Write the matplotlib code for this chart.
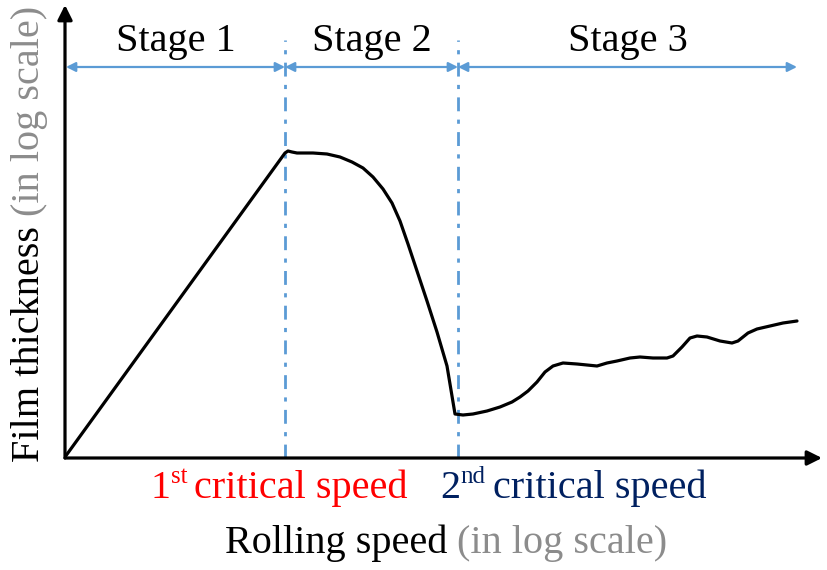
import matplotlib.pyplot as plt

plt.rcParams['font.family'] = ['Liberation Serif', 'DejaVu Serif']

# schematic curve (arbitrary units, origin at the axes corner)
speed = [0, 220, 223, 227, 232, 248, 262, 275, 287, 298, 308, 318, 327, 335,
         343, 352, 362, 372, 382, 390, 398, 408, 422, 435, 447, 455, 463, 472,
         480, 488, 498, 512, 522, 532, 542, 552, 565, 575, 588, 602, 608, 617,
         625, 632, 642, 655, 667, 673, 683, 692, 705, 718, 732]
thickness = [1, 305, 307, 306, 305, 305, 304, 301, 296, 290, 281, 269, 255, 237,
             214, 187, 157, 126, 92, 44, 43, 44, 47, 51, 56, 61, 67, 76,
             86, 92, 95, 94, 93, 92, 95, 97, 100, 101, 100, 100, 102, 111,
             120, 122, 121, 117, 115, 117, 125, 129, 132, 135, 137]

critical_speeds = [220, 393]
stage_bounds = [1, 220, 393, 732]
stage_labels = ['Stage 1', 'Stage 2', 'Stage 3']

blue = '#5B9BD5'
fs = 29

fig = plt.figure(figsize=(8.27, 5.70), dpi=100)
ax = fig.add_axes([65 / 827, 112 / 570, 757 / 827, 453 / 570])
ax.set_xlim(0, 757)
ax.set_ylim(0, 453)
ax.axis('off')

# axes drawn as arrows
ax.annotate('', xy=(1, 0), xytext=(0, 0), xycoords='axes fraction',
            arrowprops=dict(arrowstyle='-|>', color='black', lw=2.3,
                            mutation_scale=22, shrinkA=0, shrinkB=0))
ax.annotate('', xy=(0, 1), xytext=(0, 0), xycoords='axes fraction',
            arrowprops=dict(arrowstyle='-|>', color='black', lw=2.3,
                            mutation_scale=22, shrinkA=0, shrinkB=0))

# critical speed markers
for c in critical_speeds:
    ax.plot([c, c], [0, 418], color=blue, lw=2, ls=(0, (5, 3, 1.5, 3)))

# stage arrows and labels
for i, lab in enumerate(stage_labels):
    a, b = stage_bounds[i], stage_bounds[i + 1]
    ax.annotate('', xy=(b, 391), xytext=(a, 391),
                arrowprops=dict(arrowstyle='<|-|>', color=blue, lw=1.6,
                                mutation_scale=14, shrinkA=0, shrinkB=0))
    ax.text((a + b) / 2, 417, lab, ha='center', va='center', fontsize=fs)

ax.plot(speed, thickness, color='black', lw=2.3, solid_joinstyle='round',
        solid_capstyle='round')


def label_crit(x, num, sup, color):
    t1 = ax.text(x, -49, num, fontsize=fs, color=color, va='bottom',
                 clip_on=False)
    t2 = ax.annotate(sup, xy=(1, 1), xycoords=t1, xytext=(0.5, 3),
                     textcoords='offset points', fontsize=18, color=color,
                     va='top', ha='left', annotation_clip=False)
    ax.annotate('critical speed', xy=(1, 0), xycoords=(t2, t1), xytext=(5, 0),
                textcoords='offset points', fontsize=fs, color=color,
                va='bottom', ha='left', annotation_clip=False)


label_crit(85, '1', 'st', '#FF0000')
label_crit(375, '2', 'nd', '#002060')

# x axis title
t = ax.text(160, -104, 'Rolling speed', fontsize=fs, color='black',
            va='bottom', clip_on=False)
ax.annotate('(in log scale)', xy=(1, 0), xycoords=t, xytext=(7, 0),
            textcoords='offset points', fontsize=fs, color='#8C8C8C',
            va='bottom', ha='left', annotation_clip=False)

# y axis title
t = ax.text(-35, -4, 'Film thickness', fontsize=fs, color='black',
            rotation=90, ha='center', va='bottom', clip_on=False)
ax.annotate('(in log scale)', xy=(0.5, 1), xycoords=t, xytext=(0, 7),
            textcoords='offset points', fontsize=fs, color='#8C8C8C',
            rotation=90, ha='center', va='bottom', annotation_clip=False)

fig.savefig('out.png', dpi=100)
